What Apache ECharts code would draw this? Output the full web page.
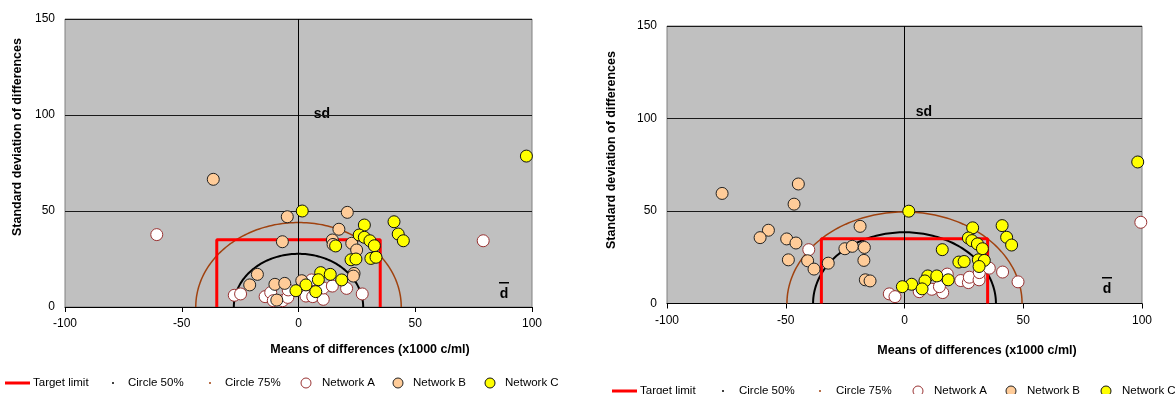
<!DOCTYPE html>
<html>
<head>
<meta charset="utf-8">
<script src="https://cdn.jsdelivr.net/npm/echarts@6/dist/echarts.min.js"></script>
<style>
  html, body { margin: 0; padding: 0; background: #fff; }
  #chart { width: 1175px; height: 394px; }
</style>
</head>
<body>
<div id="chart"></div>
<script>
// axis ticks (both panels)
const xTicks = [-100, -50, 0, 50, 100]
const yTicks = [0, 50, 100, 150]

// target limit (same both panels): +-35 wide, 35 high
const targetLimit = [35, 35]
// circle radii per panel [left, right]
const circle50Radius = [27.7, 38.5]
const circle75Radius = [44, 49.5]

// left panel — [mean of differences, sd of differences]
const leftNetworkA = [
  [-60.7, 37.7], [79.1, 34.5], [-27.5, 6.1], [-24.8, 6.8], [-14.3, 5.4], [-11.9, 7.5],
  [-10.8, 3.3], [-6.8, 3.3], [-4.6, 5.0], [-4.4, 8.9], [3.2, 5.7], [6.1, 5.4],
  [5.6, 14.1], [10.6, 4.0], [10.6, 9.9], [14.5, 10.9], [20.6, 9.7], [27.3, 6.8],
]
const leftNetworkB = [
  [-36.5, 66.5], [-4.8, 47.0], [20.9, 49.3], [17.3, 40.5], [-6.9, 34.0], [14.5, 34.9],
  [14.8, 32.6], [22.8, 33.2], [24.9, 29.7], [23.8, 17.5], [23.5, 16.1], [-17.6, 17.0],
  [-20.9, 11.5], [-10.1, 11.8], [-5.9, 12.3], [1.4, 13.7], [-9.3, 3.6],
]
const leftNetworkC = [
  [97.6, 78.6], [1.6, 50.0], [28.2, 42.7], [40.9, 44.4], [42.7, 38.0], [44.9, 34.5],
  [26.0, 37.5], [28.2, 36.3], [30.6, 34.5], [32.5, 31.9], [15.9, 31.8], [22.5, 24.6],
  [24.6, 25.0], [31.0, 25.3], [33.2, 25.9], [9.5, 17.9], [13.6, 17.0], [8.5, 14.2],
  [18.5, 14.1], [3.2, 11.5], [-1.1, 8.5], [7.4, 8.0],
]

// right panel
const rightNetworkA = [
  [99.5, 43.9], [-40.3, 29.1], [-6.4, 5.2], [-4.0, 3.7], [6.2, 6.4], [11.5, 7.7],
  [16.1, 5.9], [14.7, 9.1], [18.0, 15.9], [23.7, 12.4], [26.9, 11.3], [27.3, 14.2],
  [31.4, 12.8], [31.5, 16.7], [35.7, 19.1], [41.3, 17.0], [47.8, 11.7],
]
const rightNetworkB = [
  [-76.8, 59.5], [-44.7, 64.6], [-46.5, 53.7], [-57.3, 39.6], [-60.8, 35.6], [-49.6, 34.9],
  [-45.7, 32.7], [-48.9, 23.6], [-40.8, 23.1], [-38.1, 18.6], [-32.1, 21.8], [-18.7, 41.7],
  [-25.1, 29.6], [-22.0, 30.9], [-16.9, 30.3], [-17.1, 23.3], [-16.5, 12.8], [-14.5, 12.2],
]
const rightNetworkC = [
  [98.2, 76.5], [1.8, 49.9], [28.7, 40.9], [41.1, 42.1], [43.0, 35.8], [45.1, 31.6],
  [26.9, 35.4], [28.4, 34.0], [30.7, 32.2], [32.8, 29.6], [15.9, 29.1], [22.9, 22.4],
  [25.1, 22.7], [31.1, 23.6], [33.6, 23.3], [31.4, 20.0], [9.8, 14.9], [13.6, 14.9],
  [18.4, 12.8], [8.6, 12.2], [3.0, 10.4], [-0.9, 9.1], [7.4, 7.9],
]

const legendNames = ['Target limit', 'Circle 50%', 'Circle 75%', 'Network A', 'Network B', 'Network C']

const FONT = 'Liberation Sans, Arial, sans-serif'
const RED = '#ff0000'
const BROWN = '#a0420f'
const A_BORDER = '#993333'

const chart = echarts.init(document.getElementById('chart'))

function axesFor(i) {
  const xAxis = {
    gridIndex: i, type: 'value', min: xTicks[0], max: xTicks[xTicks.length - 1], interval: 50,
    axisLine: { lineStyle: { color: '#000', width: 1 } },
    axisTick: { show: true, length: 5, lineStyle: { color: '#000' } },
    axisLabel: { color: '#000', fontFamily: FONT, fontSize: 12, margin: 11 },
    splitLine: { show: false },
  }
  const yAxis = {
    gridIndex: i, type: 'value', min: yTicks[0], max: yTicks[yTicks.length - 1], interval: 50,
    axisLine: { show: false },
    axisTick: { show: false },
    axisLabel: { color: '#000', fontFamily: FONT, fontSize: 12, margin: 10 },
    splitLine: { show: true, lineStyle: { color: '#1a1a1a', width: 1 } },
  }
  return { xAxis, yAxis }
}

// circle drawn through the axes scales (data circle -> ellipse in px)
function circleSeries(name, i, r, color, width) {
  return {
    name, type: 'custom', xAxisIndex: i, yAxisIndex: i,
    data: [[0, 0, r]],
    encode: { x: 0, y: 1 },
    silent: true,
    z: 3,
    renderItem: (params, api) => {
      const rad = api.value(2)
      const pts = []
      for (let k = 0; k <= 120; k++) {
        const t = Math.PI * k / 120
        pts.push(api.coord([rad * Math.cos(t), rad * Math.sin(t)]))
      }
      return { type: 'polyline', shape: { points: pts }, style: { stroke: color, lineWidth: width, fill: null } }
    },
  }
}

function pointSeries(name, i, data, fill, border) {
  return {
    name, type: 'scatter', xAxisIndex: i, yAxisIndex: i, data,
    symbol: 'circle', symbolSize: 12,
    itemStyle: { color: fill, borderColor: border, borderWidth: 1, opacity: 1 },
    z: 5,
  }
}

function panelSeries(i, netA, netB, netC) {
  const [tw, th] = targetLimit
  return [
    {
      name: 'Target limit', type: 'line', xAxisIndex: i, yAxisIndex: i,
      data: [[-tw, 0], [-tw, th], [tw, th], [tw, 0]],
      symbol: 'none', lineStyle: { color: RED, width: 3 }, z: 4,
      markLine: {
        silent: true, symbol: 'none', label: { show: false },
        lineStyle: { color: '#000', width: 1, type: 'solid' },
        data: [{ xAxis: 0 }],
      },
    },
    circleSeries('Circle 50%', i, circle50Radius[i], '#000', 2),
    circleSeries('Circle 75%', i, circle75Radius[i], BROWN, 1.5),
    pointSeries('Network A', i, netA, '#ffffff', A_BORDER),
    pointSeries('Network B', i, netB, '#ffcc99', '#222'),
    pointSeries('Network C', i, netC, '#ffff00', '#111'),
  ]
}

// legend drawn as graphic: icon x positions and text x positions per panel
const legendIconX = [[5, 113, 210, 306, 398, 490], [612, 723, 820, 918, 1011, 1106]]
const legendTextX = [[33, 128, 225, 322, 413, 505], [640, 739, 836, 934, 1027, 1122]]
const legendY = [383, 391]

function legendGraphic(p) {
  const y = legendY[p]
  const ix = legendIconX[p]
  const tx = legendTextX[p]
  const els = [
    { type: 'rect', shape: { x: ix[0], y: y - 1.5, width: 25, height: 3 }, style: { fill: RED } },
    { type: 'circle', shape: { cx: ix[1], cy: y, r: 1 }, style: { fill: '#000' } },
    { type: 'circle', shape: { cx: ix[2], cy: y, r: 1 }, style: { fill: BROWN } },
    { type: 'circle', shape: { cx: ix[3], cy: y, r: 5 }, style: { fill: '#fff', stroke: A_BORDER, lineWidth: 1 } },
    { type: 'circle', shape: { cx: ix[4], cy: y, r: 5 }, style: { fill: '#ffcc99', stroke: '#222', lineWidth: 1 } },
    { type: 'circle', shape: { cx: ix[5], cy: y, r: 5 }, style: { fill: '#ffff00', stroke: '#111', lineWidth: 1 } },
  ]
  legendNames.forEach((n, k) => {
    els.push({
      type: 'text', x: tx[k], y,
      style: { text: n, font: `11.5px ${FONT}`, fill: '#000', textVerticalAlign: 'middle', verticalAlign: 'middle' },
    })
  })
  return els
}

function textEl(x, y, text, size, bold, rotate) {
  return {
    type: 'text', x, y, rotation: rotate ? Math.PI / 2 : 0,
    style: {
      text, font: `${bold ? 'bold ' : ''}${size}px ${FONT}`, fill: '#000',
      align: 'center', verticalAlign: 'middle', textAlign: 'center', textVerticalAlign: 'middle',
    },
  }
}

function dBar(x, y) {
  return [
    textEl(x, y, 'd', 14, true, false),
    { type: 'rect', shape: { x: x - 5, y: y - 12, width: 10, height: 1.5 }, style: { fill: '#000' } },
  ]
}

const left = axesFor(0)
const right = axesFor(1)

chart.setOption({
  animation: false,
  grid: [
    { left: 65, top: 19, width: 467, height: 288, show: true, backgroundColor: '#c0c0c0', borderColor: '#808080', borderWidth: 1 },
    { left: 667, top: 26, width: 475, height: 277.5, show: true, backgroundColor: '#c0c0c0', borderColor: '#808080', borderWidth: 1 },
  ],
  xAxis: [left.xAxis, right.xAxis],
  yAxis: [left.yAxis, right.yAxis],
  series: [
    ...panelSeries(0, leftNetworkA, leftNetworkB, leftNetworkC),
    ...panelSeries(1, rightNetworkA, rightNetworkB, rightNetworkC),
  ],
  graphic: [
    textEl(370, 350, 'Means of differences (x1000 c/ml)', 12.5, true, false),
    textEl(977, 351, 'Means of differences (x1000 c/ml)', 12.5, true, false),
    textEl(18, 137, 'Standard deviation of differences', 12.5, true, true),
    textEl(612, 150, 'Standard deviation of differences', 12.5, true, true),
    textEl(322, 114, 'sd', 14, true, false),
    textEl(924, 112, 'sd', 14, true, false),
    ...dBar(504, 294),
    ...dBar(1107, 289),
    ...legendGraphic(0),
    ...legendGraphic(1),
  ],
})
</script>
</body>
</html>
